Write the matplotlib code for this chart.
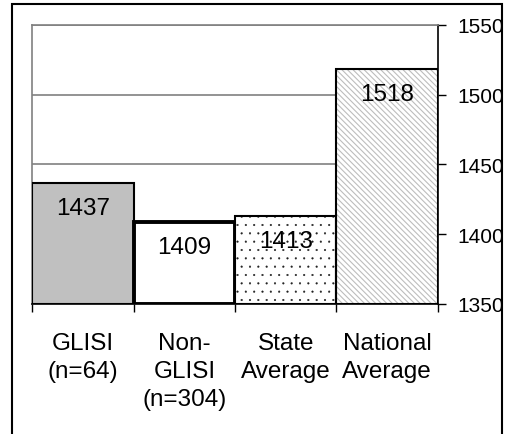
import numpy as np
import matplotlib.pyplot as plt
from matplotlib.patches import Rectangle

plt.rcParams['font.family'] = ['Liberation Sans', 'DejaVu Sans']

# Data
categories = ['GLISI\n(n=64)', 'Non-\nGLISI\n(n=304)', 'State\nAverage', 'National\nAverage']
scores = [1437, 1409, 1413, 1518]
y_ticks = [1350, 1400, 1450, 1500, 1550]

W, H = 507, 435
fig = plt.figure(figsize=(W / 100, H / 100), dpi=100)
ax = fig.add_axes([32.3 / W, 1 - 305 / H, (437.7 - 32.3) / W, (305 - 25.7) / H])

x = np.arange(len(scores))
base = 1350
heights = [s - base for s in scores]

# bars
ax.bar(x[0], heights[0], bottom=base, width=1.0, color='#c0c0c0',
       edgecolor='black', linewidth=1.5, zorder=3)
ax.bar(x[1], heights[1], bottom=base, width=1.0, color='white',
       edgecolor='black', linewidth=2.8, zorder=3)
with plt.rc_context({'hatch.linewidth': 0.3}):
    ax.bar(x[2], heights[2], bottom=base, width=1.0, color='white',
           edgecolor='#202020', hatch='..', linewidth=0, zorder=3)
ax.bar(x[2], heights[2], bottom=base, width=1.0, fill=False,
       edgecolor='black', linewidth=1.5, zorder=4)
with plt.rc_context({'hatch.linewidth': 0.8}):
    ax.bar(x[3], heights[3], bottom=base, width=1.0, color='white',
           edgecolor='#bdbdbd', hatch='\\\\\\\\\\\\', linewidth=0, zorder=3)
ax.bar(x[3], heights[3], bottom=base, width=1.0, fill=False,
       edgecolor='black', linewidth=1.5, zorder=4)

# value labels inside bars
for xi, s in zip(x, scores):
    ax.annotate(str(s), (xi, s), xytext=(0, -25), textcoords='offset pixels',
                ha='center', va='center', fontsize=17.5, zorder=5)

ax.set_xlim(-0.5, 3.5)
ax.set_ylim(1350, 1550)

# gridlines
ax.set_yticks(y_ticks)
ax.yaxis.grid(True, color='#808080', linewidth=1.2, zorder=0)
ax.set_axisbelow(True)

ax.yaxis.tick_right()
ax.tick_params(axis='y', direction='out', length=6, width=1, pad=8,
               labelsize=15, colors='black')

ax.set_xticks(x)
ax.set_xticklabels(categories, fontsize=17.5, linespacing=1.37)
ax.set_xticks(np.arange(-0.5, 4.0, 1.0), minor=True)
ax.tick_params(axis='x', which='major', length=0, pad=20)
ax.tick_params(axis='x', which='minor', length=6, width=1, direction='out')

for side in ['top', 'left']:
    ax.spines[side].set_color('#808080')
    ax.spines[side].set_linewidth(1.2)
ax.spines['right'].set_color('black')
ax.spines['right'].set_linewidth(1.2)
ax.spines['bottom'].set_linewidth(1.2)

# outer frame
fig.patches.append(Rectangle((12 / W, -0.1), (502 - 12) / W, (H - 5) / H + 0.1,
                             transform=fig.transFigure, fill=False,
                             edgecolor='black', linewidth=1.5, clip_on=False))

fig.savefig('out.png', dpi=100)
